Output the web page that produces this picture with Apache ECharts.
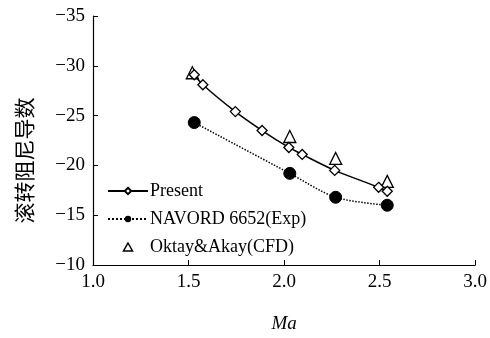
<!DOCTYPE html>
<html><head><meta charset="utf-8">
<script src="https://cdn.jsdelivr.net/npm/echarts@6/dist/echarts.min.js"></script>
<style>html,body{margin:0;padding:0;background:#fff}#c{width:490px;height:338px}</style>
</head><body><div id="c"></div>
<script>
const presentX = [1.53, 1.575, 1.745, 1.885, 2.025, 2.095, 2.265, 2.495, 2.54];
const presentY = [-29.1, -28.1, -25.4, -23.5, -21.8, -21.1, -19.5, -17.8, -17.4];
const navordX = [1.53, 2.03, 2.27, 2.54];
const navordY = [-24.3, -19.2, -16.8, -16.0];
const oktayX = [1.52, 2.03, 2.27, 2.54];
const oktayY = [-29.3, -22.9, -20.7, -18.4];
const seriesNames = ['Present', 'NAVORD 6652(Exp)', 'Oktay&Akay(CFD)'];
const xTicks = ['1.0', '1.5', '2.0', '2.5', '3.0'];

const zip = (a, b) => a.map((v, i) => [v, b[i]]);
const serif = 'Liberation Serif, Times New Roman, serif';
const chart = echarts.init(document.getElementById('c'), null, {renderer: 'canvas'});
chart.setOption({
  animation: false,
  backgroundColor: '#fff',
  grid: {left: 93, right: 12, top: 16, bottom: 70},
  legend: {
    orient: 'vertical', left: 102, top: 177, itemWidth: 40, itemHeight: 8, itemGap: 10,
    selectedMode: false,
    textStyle: {fontFamily: serif, fontSize: 18, color: '#000', padding: [0, 0, 0, -3]},
    data: [
      {name: seriesNames[0]},
      {name: seriesNames[1]},
      {name: seriesNames[2], icon: 'path://M0,0 M40,8 M20,0 L24.5,8 L15.5,8 Z',
        itemStyle: {color: '#fff', borderColor: '#000', borderWidth: 1.5}}
    ]
  },
  xAxis: {
    type: 'value', min: 1, max: 3, interval: 0.5,
    name: 'Ma', nameLocation: 'middle', nameGap: 49,
    nameTextStyle: {fontFamily: serif, fontStyle: 'italic', fontSize: 19, color: '#000'},
    axisLine: {lineStyle: {color: '#000', width: 1.2}},
    axisTick: {inside: true, length: 5, lineStyle: {color: '#000'}},
    axisLabel: {fontFamily: serif, fontSize: 19, color: '#000', margin: 8,
      formatter: v => xTicks[Math.round((v - 1) / 0.5)]},
    splitLine: {show: false}
  },
  yAxis: {
    type: 'value', min: -35, max: -10, interval: 5, inverse: true,
    name: '滚转阻尼导数', nameLocation: 'middle', nameGap: 58, nameRotate: 90,
    nameTextStyle: {fontFamily: 'Noto Sans CJK SC', fontSize: 21, color: '#000', padding: [0, 40, 0, 0]},
    axisLine: {show: true, lineStyle: {color: '#000', width: 1.2}},
    axisTick: {show: true, inside: true, length: 5, lineStyle: {color: '#000'}},
    axisLabel: {fontFamily: serif, fontSize: 19, color: '#000', margin: 8,
      formatter: v => String(v).replace('-', '\u2212')},
    splitLine: {show: false}
  },
  series: [
    {name: seriesNames[0], type: 'line', smooth: 0.3, data: zip(presentX, presentY),
      symbol: 'diamond', symbolSize: 10, showAllSymbol: true,
      lineStyle: {color: '#000', width: 1.5},
      itemStyle: {color: '#fff', borderColor: '#000', borderWidth: 1.3}},
    {name: seriesNames[1], type: 'line', smooth: 0.3, data: zip(navordX, navordY),
      symbol: 'circle', symbolSize: 12,
      lineStyle: {color: '#000', width: 1.5, type: 'dotted'},
      itemStyle: {color: '#000', borderColor: '#000'}},
    {name: seriesNames[2], type: 'scatter', data: zip(oktayX, oktayY),
      symbol: 'triangle', symbolSize: 12,
      itemStyle: {color: '#fff', borderColor: '#000', borderWidth: 1.3, opacity: 1}}
  ]
});
</script></body></html>
